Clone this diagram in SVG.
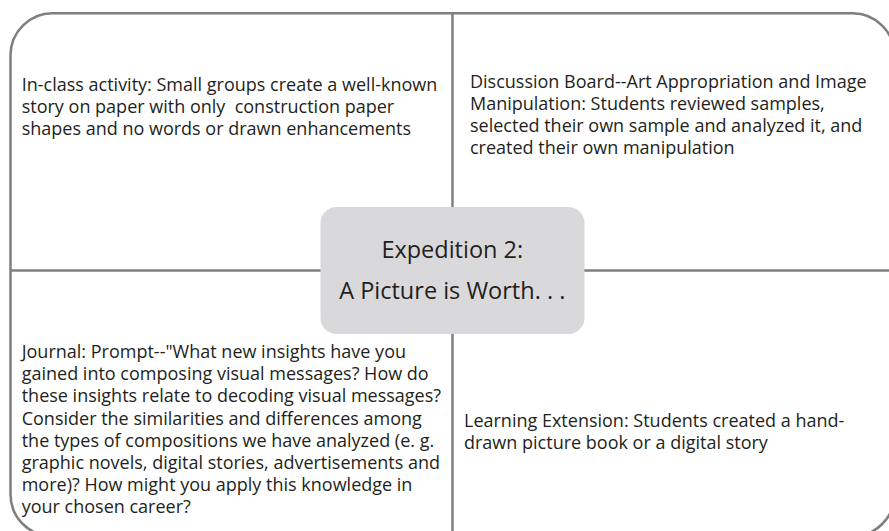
<svg xmlns="http://www.w3.org/2000/svg" width="889" height="531" viewBox="0 0 889 531">
  <style>
    .frame { fill: none; stroke: #7f7f7f; stroke-width: 2.5; }
    .divider { stroke: #7f7f7f; stroke-width: 2.5; }
    .hub { fill: #d9d9db; }
    .body { font-family: "Open Sans", "Liberation Sans", sans-serif; font-size: 18px; fill: #231f20; white-space: pre; }
    .title { font-family: "Open Sans", "Liberation Sans", sans-serif; font-size: 23.5px; fill: #231f20; text-anchor: middle; }
  </style>
  <rect width="889" height="531" fill="#ffffff"/>

  <!-- outer rounded frame (extends past the right and bottom edges) -->
  <rect class="frame" x="10.5" y="13.3" width="884" height="523" rx="42" ry="42"/>

  <!-- quadrant dividers linking the frame to the hub -->
  <g id="connectors">
    <line class="divider" x1="452.5" y1="13.3" x2="452.5" y2="531"/>
    <line class="divider" x1="10.5" y1="270.5" x2="889" y2="270.5"/>
  </g>

  <g id="hub">
    <rect class="hub" x="320.5" y="207" width="264" height="127" rx="16" ry="16"/>
    <text class="title" x="452.3" y="258.3">Expedition 2:</text>
    <text class="title" x="452.3" y="299">A Picture is Worth. . .</text>
  </g>

  <g id="in-class-activity">
    <text class="body" x="21.7" y="91">In-class activity: Small groups create a well-known</text>
    <text class="body" x="21.7" y="113.2">story on paper with only  construction paper</text>
    <text class="body" x="21.7" y="135.4">shapes and no words or drawn enhancements</text>
  </g>

  <g id="discussion-board">
    <text class="body" x="470" y="87.5">Discussion Board--Art Appropriation and Image</text>
    <text class="body" x="470" y="109.7">Manipulation: Students reviewed samples,</text>
    <text class="body" x="470" y="131.9">selected their own sample and analyzed it, and</text>
    <text class="body" x="470" y="154.1">created their own manipulation</text>
  </g>

  <g id="journal">
    <text class="body" x="21.7" y="358">Journal: Prompt--"What new insights have you</text>
    <text class="body" x="21.7" y="380.2">gained into composing visual messages? How do</text>
    <text class="body" x="21.7" y="402.4">these insights relate to decoding visual messages?</text>
    <text class="body" x="21.7" y="424.6">Consider the similarities and differences among</text>
    <text class="body" x="21.7" y="446.8">the types of compositions we have analyzed (e. g.</text>
    <text class="body" x="21.7" y="469">graphic novels, digital stories, advertisements and</text>
    <text class="body" x="21.7" y="491.2">more)? How might you apply this knowledge in</text>
    <text class="body" x="21.7" y="513.4">your chosen career?</text>
  </g>

  <g id="learning-extension">
    <text class="body" x="464" y="426.7">Learning Extension: Students created a hand-</text>
    <text class="body" x="464" y="449">drawn picture book or a digital story</text>
  </g>
</svg>
